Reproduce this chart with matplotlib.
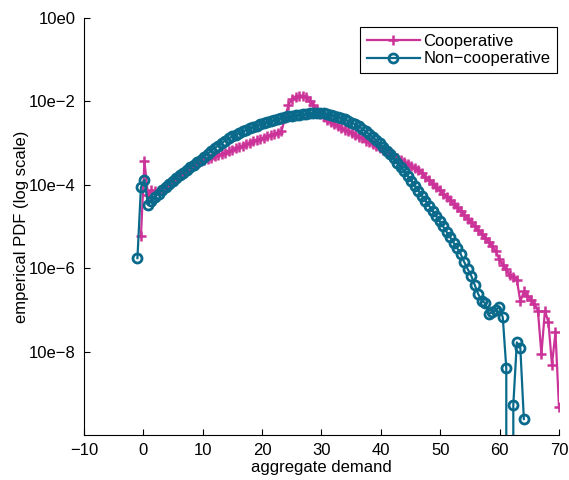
import numpy as np
import matplotlib
matplotlib.use("Agg")
import matplotlib.pyplot as plt

plt.rcParams['font.family'] = ['Liberation Sans', 'DejaVu Sans']

# srodki przedzialow histogramu (wspolne dla obu serii)
bin_centres = np.linspace(-1.0, 70.0, 121)

# log10 gestosci, -inf = pusty przedzial
noncoop_log10 = [
    -5.76, -4.06, -3.88, -4.48, -4.38, -4.29, -4.21, -4.13, -4.05, -3.98,
    -3.91, -3.84, -3.77, -3.71, -3.64, -3.58, -3.52, -3.46, -3.40, -3.33,
    -3.26, -3.19, -3.12, -3.06, -3.00, -2.94, -2.89, -2.84, -2.80, -2.76,
    -2.72, -2.68, -2.64, -2.61, -2.58, -2.55, -2.52, -2.49, -2.47, -2.45,
    -2.42, -2.40, -2.38, -2.36, -2.34, -2.33, -2.32, -2.31, -2.30, -2.29,
    -2.29, -2.28, -2.29, -2.29, -2.30, -2.32, -2.34, -2.37, -2.40, -2.43,
    -2.47, -2.51, -2.55, -2.60, -2.66, -2.72, -2.79, -2.86, -2.93, -3.01,
    -3.10, -3.18, -3.27, -3.37, -3.47, -3.57, -3.68, -3.79, -3.90, -4.02,
    -4.14, -4.26, -4.38, -4.50, -4.62, -4.75, -4.88, -5.00, -5.13, -5.26,
    -5.39, -5.52, -5.66, -5.85, -6.02, -6.18, -6.40, -6.62, -6.78, -6.84,
    -7.10, -7.06, -7.00, -6.94, -7.18, -8.40, -np.inf, -9.28, -7.78, -7.92,
    -9.62,
]

coop_log10 = [
    -5.23, -3.44, -4.24, -4.13, -4.16, -4.16, -4.10, -4.03, -3.96,
    -3.89, -3.83, -3.76, -3.70, -3.64, -3.58, -3.53, -3.48, -3.44, -3.41,
    -3.38, -3.35, -3.32, -3.29, -3.26, -3.23, -3.20, -3.17, -3.13, -3.10,
    -3.06, -3.03, -2.99, -2.96, -2.93, -2.90, -2.87, -2.84, -2.81, -2.78,
    -2.75, -2.72, -2.40, -2.08, -1.95, -1.89, -1.86, -1.86, -1.90, -1.98,
    -2.08, -2.20, -2.30, -2.38, -2.45, -2.50, -2.55, -2.60, -2.64, -2.68,
    -2.72, -2.76, -2.80, -2.85, -2.89, -2.94, -2.98, -3.03, -3.07, -3.12,
    -3.16, -3.21, -3.26, -3.31, -3.36, -3.41, -3.46, -3.51, -3.56, -3.60,
    -3.65, -3.73, -3.81, -3.89, -3.97, -4.05, -4.13, -4.21, -4.29, -4.37,
    -4.46, -4.54, -4.63, -4.72, -4.81, -4.90, -4.99, -5.08, -5.17, -5.27,
    -5.37, -5.47, -5.60, -5.78, -5.92, -6.03, -6.16, -6.22, -6.28, -6.80,
    -6.56, -6.66, -6.76, -6.86, -7.02, -8.06, -7.02, -7.30, -8.32, -7.54,
    -9.34,
]

ytick_vals = [1e0, 1e-2, 1e-4, 1e-6, 1e-8]
ytick_labels = ['10e0', '10e\u22122', '10e\u22124', '10e\u22126', '10e\u22128']
xtick_vals = [-10, 0, 10, 20, 30, 40, 50, 60, 70]

pink = '#cc3399'
blue = '#0a6a8c'

x_coop = bin_centres[1:1 + len(coop_log10)]
x_noncoop = bin_centres[:len(noncoop_log10)]
y_coop = 10.0 ** np.array(coop_log10)
y_noncoop = 10.0 ** np.array(noncoop_log10)

fig = plt.figure(figsize=(5.69, 4.80), dpi=100)
ax = fig.add_axes([0.1476, 0.094, 0.8348, 0.8685])

ax.plot(x_coop, y_coop, color=pink, lw=1.6, marker='+', ms=6.5, mew=1.8,
        label='Cooperative')
ax.plot(x_noncoop, y_noncoop, color=blue, lw=1.6, marker='o', ms=6.5,
        mew=2.0, mfc='none', label='Non\u2212cooperative')

ax.set_yscale('log')
ax.set_xlim(-10, 70)
ax.set_ylim(1e-10, 1e0)
ax.set_xticks(xtick_vals)
ax.set_yticks(ytick_vals)
ax.set_yticklabels(ytick_labels)
ax.minorticks_off()

ax.spines['top'].set_visible(False)
ax.spines['right'].set_visible(False)
ax.spines['left'].set_linewidth(0.8)
ax.spines['bottom'].set_linewidth(0.8)
ax.tick_params(direction='in', length=4, width=0.8, labelsize=12, pad=6)

ax.set_xlabel('aggregate demand', fontsize=12, labelpad=1)
ax.set_ylabel('emperical PDF (log scale)', fontsize=12, labelpad=0)

leg = ax.legend(loc='upper right', bbox_to_anchor=(0.996, 0.978),
                borderaxespad=0, fontsize=12, handlelength=3.2,
                labelspacing=0.15, borderpad=0.4, handletextpad=0.2,
                fancybox=False, framealpha=1)
leg.get_frame().set_edgecolor('black')
leg.get_frame().set_linewidth(0.8)

fig.savefig('out.png', dpi=100)
